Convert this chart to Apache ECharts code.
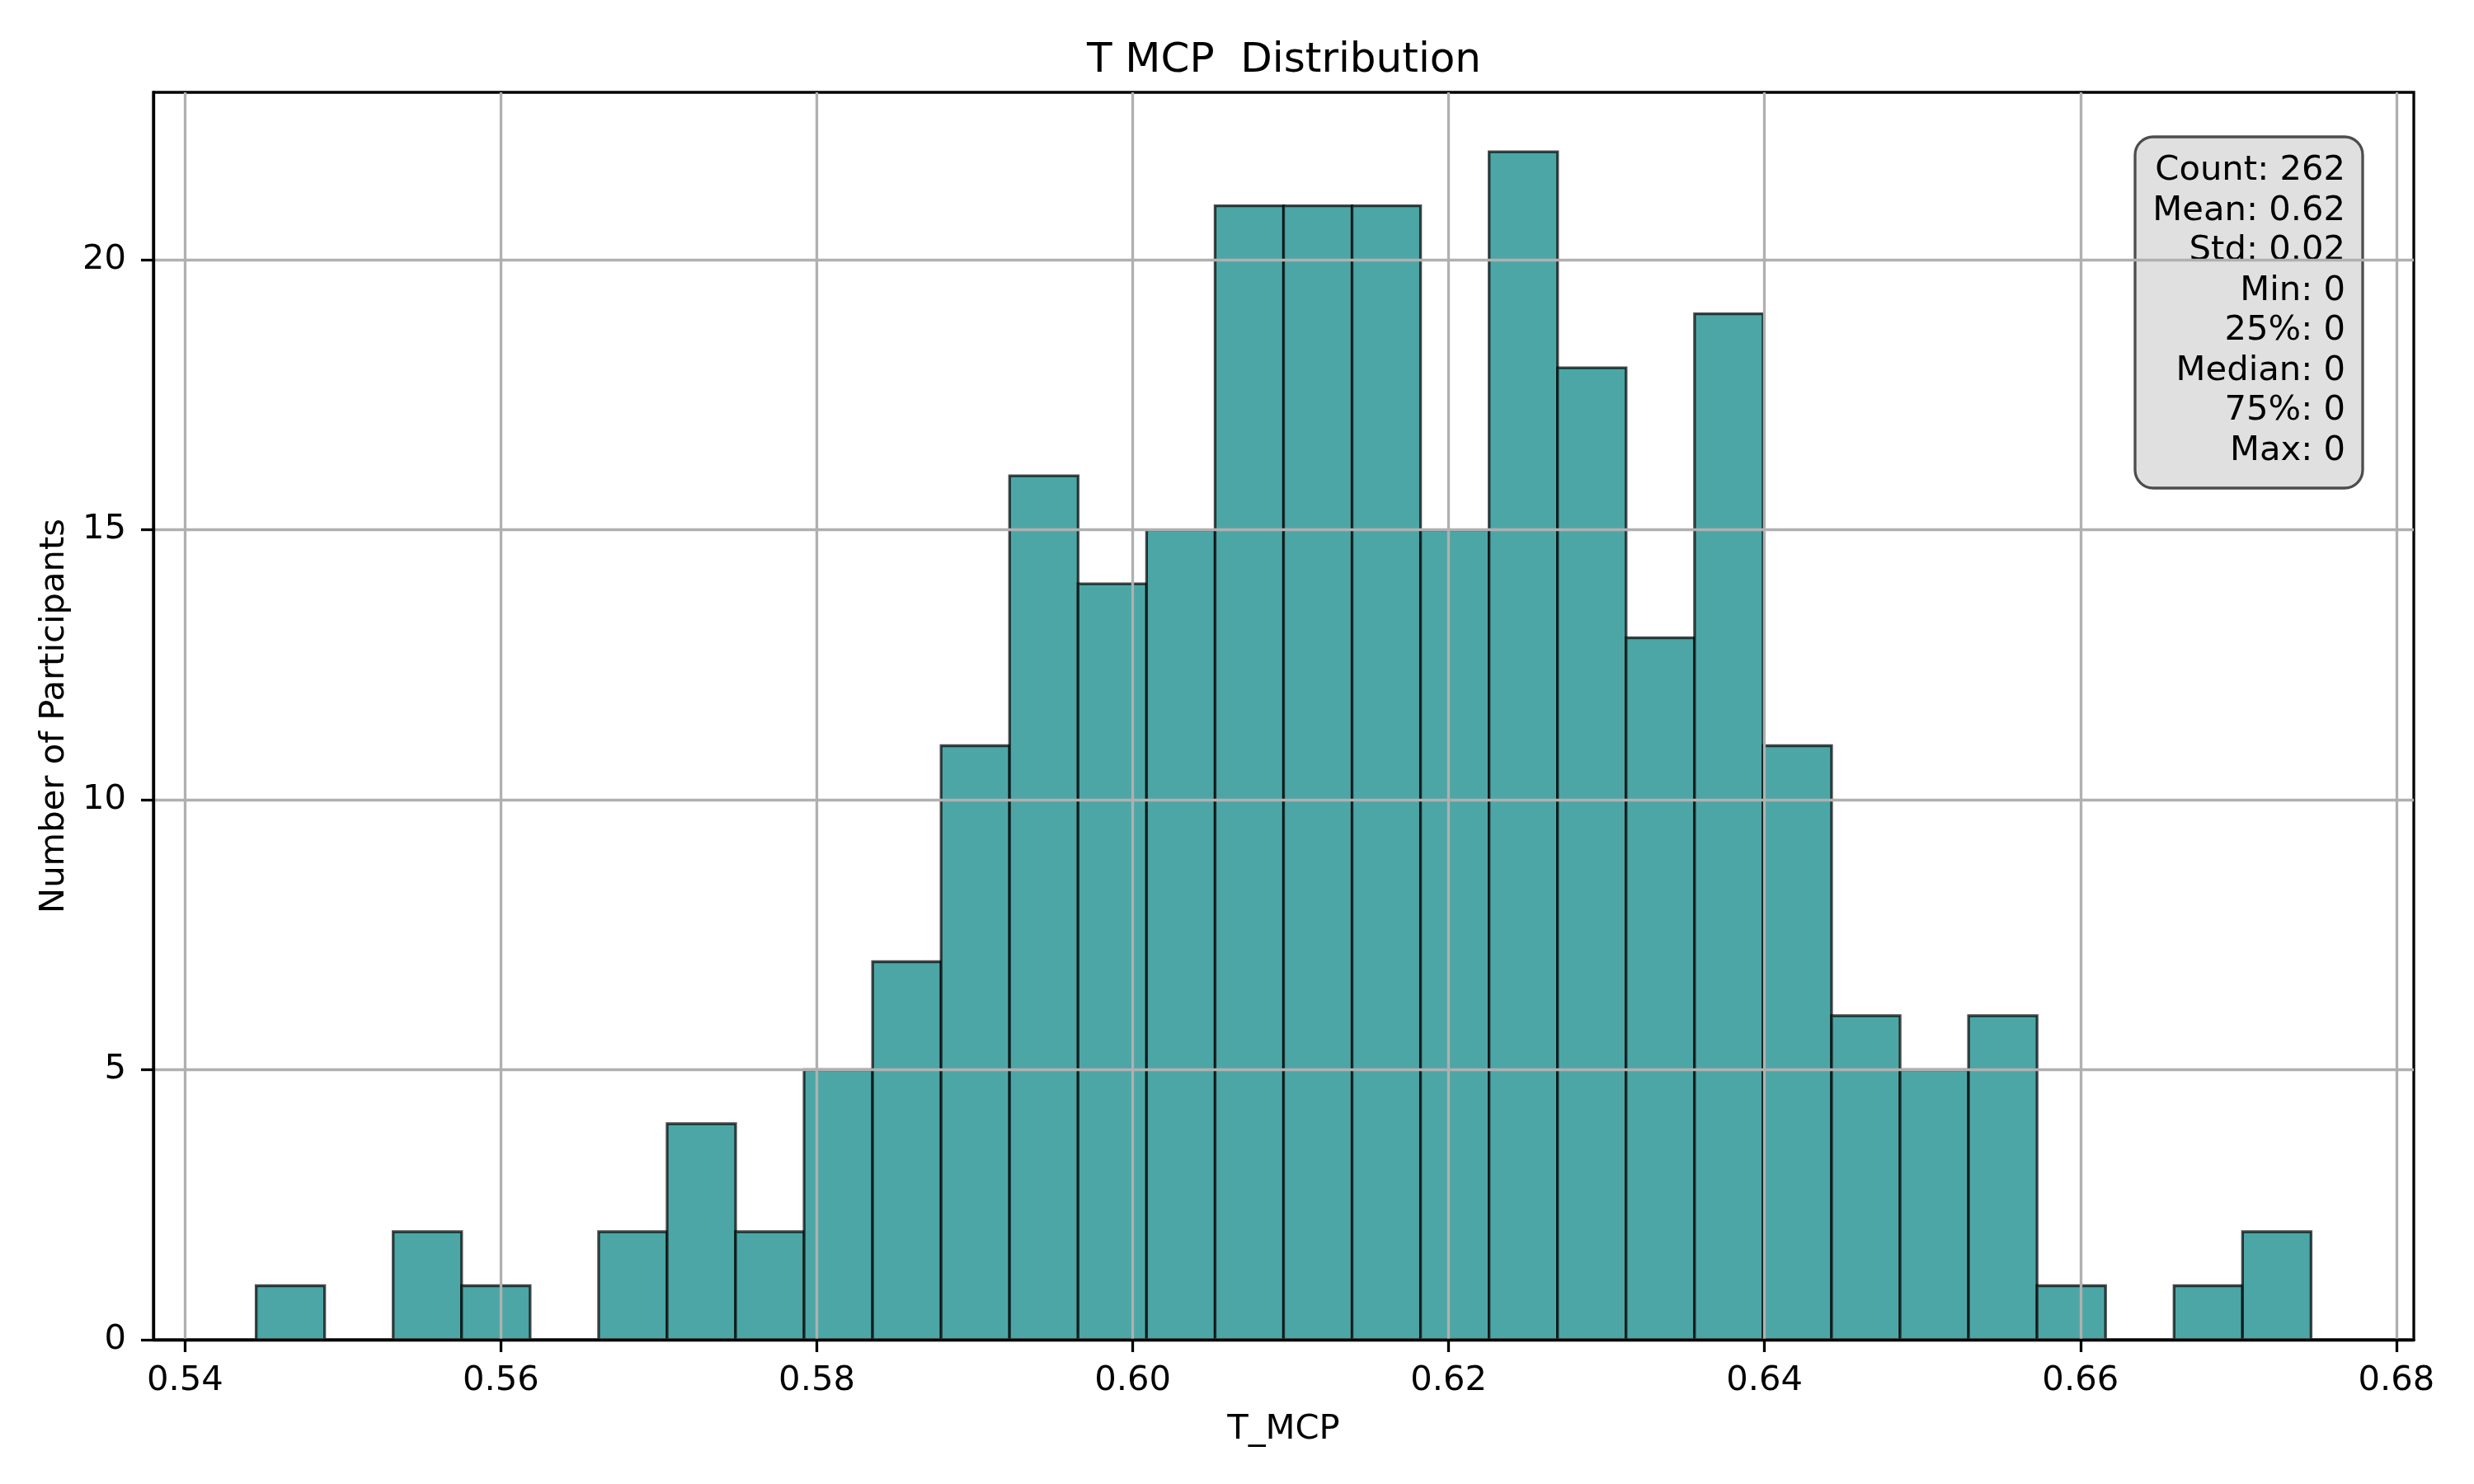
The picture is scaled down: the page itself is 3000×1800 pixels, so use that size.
<!DOCTYPE html>
<html>
<head>
<meta charset="utf-8">
<script src="https://cdn.jsdelivr.net/npm/echarts@6/dist/echarts.min.js"></script>
<style>
  html, body { margin: 0; padding: 0; background: #fff; }
  #chart { width: 3000px; height: 1800px; }
</style>
</head>
<body>
<div id="chart"></div>
<script>
// histogram: 30 bins between the lowest and highest T_MCP value
const binStart = 0.5445;
const binEnd = 0.6746;
const counts = [1, 0, 2, 1, 0, 2, 4, 2, 5, 7,
                11, 16, 14, 15, 21, 21, 21, 15, 22, 18,
                13, 19, 11, 6, 5, 6, 1, 0, 1, 2];
const xTicks = [0.54, 0.56, 0.58, 0.60, 0.62, 0.64, 0.66, 0.68];
const yTicks = [0, 5, 10, 15, 20];
const statNames = ['Count', 'Mean', 'Std', 'Min', '25%', 'Median', '75%', 'Max'];
const statValues = ['262', '0.62', '0.02', '0', '0', '0', '0', '0'];

const binWidth = (binEnd - binStart) / counts.length;
const bins = counts.map((c, i) => [binStart + i * binWidth, binStart + (i + 1) * binWidth, c]);

// matplotlib style margins: 5% on x, 5% above the tallest bar
const xPad = (binEnd - binStart) * 0.05;
const yMax = Math.max(...counts) * 1.05;

const font = 'DejaVu Sans';
const chart = echarts.init(document.getElementById('chart'), null, { renderer: 'canvas' });

chart.setOption({
  backgroundColor: '#fff',
  animation: false,
  textStyle: { fontFamily: font, color: '#000' },
  title: {
    text: 'T MCP  Distribution',
    left: 1552,
    top: 44,
    textAlign: 'center',
    textStyle: { fontFamily: font, fontSize: 50, fontWeight: 'normal', color: '#000' }
  },
  grid: {
    left: 186, right: 73, top: 112, bottom: 175,
    show: true, borderColor: '#000', borderWidth: 3.3, backgroundColor: 'transparent'
  },
  xAxis: {
    type: 'value',
    min: binStart - xPad,
    max: binEnd + xPad,
    z: 3,
    name: 'T_MCP',
    nameLocation: 'middle',
    nameGap: 88,
    nameTextStyle: { fontFamily: font, fontSize: 41.7, color: '#000' },
    axisLine: { show: true, onZero: false, lineStyle: { color: '#000', width: 3.3 } },
    axisTick: { show: true, inside: false, length: 15, customValues: xTicks, lineStyle: { color: '#000', width: 3.3 } },
    axisLabel: {
      customValues: xTicks,
      margin: 29,
      fontFamily: font, fontSize: 41.7, color: '#000',
      formatter: v => v.toFixed(2)
    },
    splitLine: { show: true, lineStyle: { color: '#b0b0b0', width: 3.3 } }
  },
  yAxis: {
    type: 'value',
    min: 0,
    max: yMax,
    z: 3,
    name: 'Number of Participants',
    nameLocation: 'middle',
    nameGap: 99,
    nameRotate: 90,
    nameTextStyle: { fontFamily: font, fontSize: 41.7, color: '#000' },
    axisLine: { show: true, lineStyle: { color: '#000', width: 3.3 } },
    axisTick: { show: true, inside: false, length: 15, customValues: yTicks, lineStyle: { color: '#000', width: 3.3 } },
    axisLabel: {
      customValues: yTicks,
      margin: 33,
      fontFamily: font, fontSize: 41.7, color: '#000'
    },
    splitLine: { show: true, lineStyle: { color: '#b0b0b0', width: 3.3 } }
  },
  series: [{
    type: 'custom',
    z: 1,
    data: bins,
    encode: { x: [0, 1], y: 2 },
    renderItem: function (params, api) {
      const p0 = api.coord([api.value(0), api.value(2)]);
      const p1 = api.coord([api.value(1), 0]);
      if (api.value(2) === 0) return null;
      return {
        type: 'rect',
        shape: { x: p0[0], y: p0[1], width: p1[0] - p0[0], height: p1[1] - p0[1] },
        style: { fill: '#4da6a6', stroke: 'rgba(0,0,0,0.7)', lineWidth: 3.3 }
      };
    }
  }],
  graphic: [{
    type: 'group',
    z: 10,
    children: [{
      type: 'rect',
      shape: { x: 2589, y: 166, width: 276, height: 426, r: 22 },
      style: { fill: '#e0e0e0', stroke: '#4d4d4d', lineWidth: 3.3 }
    }, {
      type: 'text',
      x: 2844,
      y: 183,
      style: {
        text: statNames.map((n, i) => n + ': ' + statValues[i]).join('\n'),
        align: 'right',
        verticalAlign: 'top',
        font: '41.7px "DejaVu Sans"',
        lineHeight: 48.5,
        fill: '#000'
      }
    }]
  }]
});
</script>
</body>
</html>
